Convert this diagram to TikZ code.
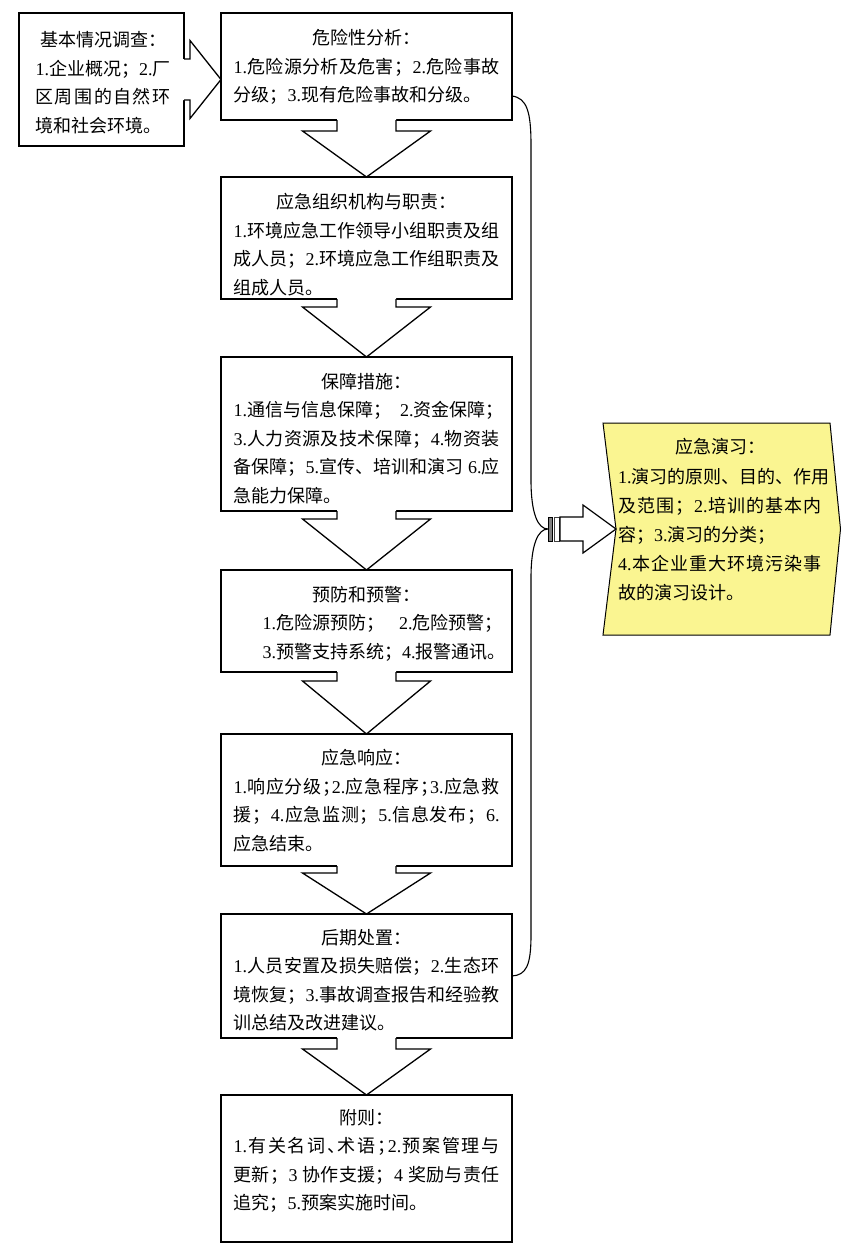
\documentclass[tikz,border=0pt]{standalone}
\usepackage{fontspec}
\setmainfont{Liberation Serif}
\newfontfamily\cjk{Noto Sans CJK SC}
\newfontfamily\latf{Liberation Serif}
\usetikzlibrary{calc}
\definecolor{ylw}{RGB}{250,245,145}
\makeatletter
\newcommand\nm[1]{{\latf #1}}
\newcommand\Ln[1]{\noindent\hbox to \tw{#1\hss}}
\newcommand\Ct[1]{\noindent\hbox to \tw{\hss#1\hss}}
\newcommand\Jl[1]{\noindent\hbox to \tw{\@tfor\jtok:=#1\do{\jtok\hfil}\unskip}}
\makeatother
\newcommand\hsm[1]{\makebox[0.5em][l]{#1}}
\def\tw{266pt}
\tikzset{
  box/.style={draw, line width=1.3pt, fill=white, inner sep=0pt, outer sep=0pt},
  txt/.style={inner sep=0pt, outer sep=0pt, align=left, text width=\tw,
    font={\cjk\fontsize{18pt}{28.5pt}\selectfont}},
  arr/.style={line width=1.3pt, line join=miter},
  brace/.style={line width=1.1pt},
}
\newcommand\blockdown[3]{%
  \fill[white] ($(#1.south)+(-29.5,-1)$) -- ($(#1.south)+(-29.5,#3)$) -- ($(#1.south)+(-64,#3)$)
    -- (#2.north) -- ($(#1.south)+(64,#3)$) -- ($(#1.south)+(29.5,#3)$) -- ($(#1.south)+(29.5,-1)$) -- cycle;
  \draw[arr] ($(#1.south)+(-29.5,0)$) -- ($(#1.south)+(-29.5,#3)$) -- ($(#1.south)+(-64,#3)$)
    -- (#2.north) -- ($(#1.south)+(64,#3)$) -- ($(#1.south)+(29.5,#3)$) -- ($(#1.south)+(29.5,0)$);
}
\begin{document}
\begin{tikzpicture}[x=1pt,y=-1pt]
\useasboundingbox[fill=white] (0,0) rectangle (855,1256);

% boxes
\node[box, minimum width=165, minimum height=133] (lb) at (101.5,79.5) {};
\node[box, minimum width=291, minimum height=107] (b1) at (366.5,66.5) {};
\node[box, minimum width=291, minimum height=122] (b2) at (366.5,238) {};
\node[box, minimum width=291, minimum height=154] (b3) at (366.5,434) {};
\node[box, minimum width=291, minimum height=102] (b4) at (366.5,621) {};
\node[box, minimum width=291, minimum height=132] (b5) at (366.5,800) {};
\node[box, minimum width=291, minimum height=124] (b6) at (366.5,976) {};
\node[box, minimum width=291, minimum height=147] (b7) at (366.5,1168.5) {};

% yellow drill box
\fill[ylw] (603,423) -- (830,423) -- (840.5,529) -- (830,635) -- (603,635) -- (616,529) -- cycle;
\draw[line width=1pt] (603,423) -- (830,423) -- (840.5,529) -- (830,635) -- (603,635) -- (616,529) -- cycle;
\coordinate (yn) at (616,529);

% block arrows down
\blockdown{b1}{b2}{11}
\blockdown{b2}{b3}{8}
\blockdown{b3}{b4}{8}
\blockdown{b4}{b5}{9}
\blockdown{b5}{b6}{7}
\blockdown{b6}{b7}{11}

% block arrow right (survey -> analysis)
\fill[white] ($(lb.east)+(-1,-20.5)$) -- ($(lb.east)+(6,-20.5)$) -- ($(lb.east)+(6,-39)$)
  -- (b1.west |- lb.east) -- ($(lb.east)+(6,39)$) -- ($(lb.east)+(6,20.5)$) -- ($(lb.east)+(-1,20.5)$) -- cycle;
\draw[arr] ($(lb.east)+(0,-20.5)$) -- ($(lb.east)+(6,-20.5)$) -- ($(lb.east)+(6,-39)$)
  -- (b1.west |- lb.east) -- ($(lb.east)+(6,39)$) -- ($(lb.east)+(6,20.5)$) -- ($(lb.east)+(0,20.5)$);

% brace
\coordinate (bs) at ($(b1.north east)+(0,83)$);
\coordinate (bt) at (548,529);
\draw[brace] (bs) .. controls (527,98) and (531,112) .. (531,145) -- (531,480)
  .. controls (531,514) and (538,529) .. (bt)
  .. controls (538,529) and (531,544) .. (531,578) -- (531,935)
  .. controls (531,966) and (526,975) .. (b6.east);

% striped arrow
\filldraw[fill=gray, line width=0.9pt] ($(bt)+(0,-12)$) rectangle ($(bt)+(4,12)$);
\filldraw[fill=white, draw=black!75, line width=0.9pt] ($(bt)+(6,-12)$) rectangle ($(bt)+(11,12)$);
\filldraw[fill=white, arr, line width=1.2pt] ($(bt)+(12,-12)$) -- ($(bt)+(35,-12)$) -- ($(bt)+(35,-24)$)
  -- (yn) -- ($(bt)+(35,24)$) -- ($(bt)+(35,12)$) -- ($(bt)+(12,12)$) -- cycle;

% texts
\def\tw{135pt}
\node[txt] (tl) at (103,82.5) {%
\Ct{基本情况调查：}\\
\Jl{{\nm{1.}}企业概况；{\nm{2.}}厂}\\
\Jl{区周围的自然环}\\
\Ln{境和社会环境。}};
\def\tw{266pt}
\node[txt] (t1) at (366.5,67) {%
\Ct{危险性分析：}\\
\Jl{{\nm{1.}}危险源分析及危害；{\nm{2.}}危险事故}\\
\Ln{分级；\nm{3.}现有危险事故和分级。}};
\node[txt] (t2) at (366.5,244.5) {%
\Ct{应急组织机构与职责：}\\
\Jl{{\nm{1.}}环境应急工作领导小组职责及组}\\
\Jl{成人员；{\nm{2.}}环境应急工作组职责及}\\
\Ln{组成人员。}};
\node[txt] (t3) at (366.5,438.5) {%
\Ct{保障措施：}\\
\Ln{\nm{1.}通信与信息保障；\kern0.5em\nm{2.}资金保障；}\\
\Jl{{\nm{3.}}人力资源及技术保障；{\nm{4.}}物资装}\\
\Jl{备保障；{\nm{5.}}宣传、培训和演习{\kern5pt}{\nm{6.}}应}\\
\Ln{急能力保障。}};
\node[txt] (t4) at (366.5,623.5) {%
\Ct{预防和预警：}\\
\Ln{\kern29pt\nm{1.}危险源预防；\kern15pt\nm{2.}危险预警；}\\
\Ln{\kern29pt\nm{3.}预警支持系统；\nm{4.}报警通讯。}};
\node[txt] (t5) at (366.5,800.5) {%
\Ct{应急响应：}\\
\Jl{{\nm{1.}}响应分级{\hsm{；}}{\nm{2.}}应急程序{\hsm{；}}{\nm{3.}}应急救}\\
\Jl{援；{\nm{4.}}应急监测；{\nm{5.}}信息发布；{\nm{6.}}}\\
\Ln{应急结束。}};
\node[txt] (t6) at (366.5,980) {%
\Ct{后期处置：}\\
\Jl{{\nm{1.}}人员安置及损失赔偿；{\nm{2.}}生态环}\\
\Jl{境恢复；{\nm{3.}}事故调查报告和经验教}\\
\Ln{训总结及改进建议。}};
\node[txt] (t7) at (366.5,1161) {%
\Ct{附则：}\\
\Jl{{\nm{1.}}有关名词{\hsm{、}}术语{\hsm{；}}{\nm{2.}}预案管理与}\\
\Jl{更新；{\nm{3}\kern4.5pt}协作支援；{\nm{4}\kern4.5pt}奖励与责任}\\
\Ln{追究；\nm{5.}预案实施时间。}};
\def\tw{204pt}
\node[txt, font={\cjk\fontsize{18pt}{29.2pt}\selectfont}] (ty) at (720,520) {%
\Ct{应急演习：}\\
\Jl{{\nm{1.}}演习的原则、目的、作用}\\
\Jl{及范围；{\nm{2.}}培训的基本内}\\
\Ln{容；\nm{3.}演习的分类；}\\
\Jl{{\nm{4.}}本企业重大环境污染事}\\
\Ln{故的演习设计。}};
\end{tikzpicture}
\end{document}
